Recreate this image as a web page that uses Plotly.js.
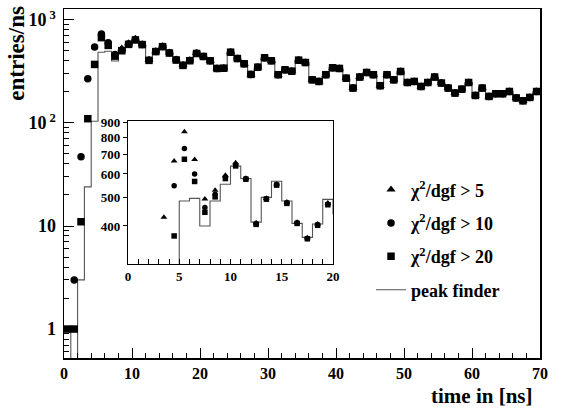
<!DOCTYPE html>
<html>
<head>
<meta charset="utf-8">
<script src="https://cdn.plot.ly/plotly-3.0.1.min.js"></script>
<style>html,body{margin:0;padding:0;background:#fff;}#plot{width:563px;height:409px;}</style>
</head>
<body>
<div id="plot"></div>
<script>
// bin width 1 ns, 70 bins from 0 to 70 ns
const nBins = 70;
const binWidth = 1;

// chi2/dgf > 20 (squares)
const sq = [1, 1, 11, 110, 370, 673, 566, 445, 502, 579,
  639, 576, 405, 493, 550, 477, 408, 362, 402, 472,
  442, 401, 338, 340, 486, 422, 375, 296, 348, 429,
  401, 294, 328, 318, 407, 386, 262, 253, 294, 343,
  338, 272, 218, 279, 309, 294, 230, 294, 262, 316,
  247, 253, 226, 247, 279, 244, 218, 195, 213, 247,
  185, 218, 181, 192, 192, 202, 175, 164, 177, 202];

// chi2/dgf > 10 (circles)
const circ = [null, 3, 47, 268, 547, 732, 600, 462, 512, 585,
  645, 578, 407, 495, 553, 479, 410, 363, 404, 474,
  442, 401, 338, 340, 486, 422, 375, 296, 348, 429,
  401, 294, 328, 318, 407, 386, 262, 253, 294, 343,
  338, 272, 218, 279, 309, 294, 230, 294, 262, 316,
  247, 253, 226, 247, 279, 244, 218, 195, 213, 247,
  185, 218, 181, 192, 192, 202, 175, 164, 177, 202];

// chi2/dgf > 5 (triangles) as seen in the inset
const tri = [null, null, null, 428, 664, 835, 672, 494, 529, 594,
  655, 580, 410, 497, 555, 482, 412, 365, 406, 478,
  442, 401, 338, 340, 486, 422, 375, 296, 348, 429,
  401, 294, 328, 318, 407, 386, 262, 253, 294, 343,
  338, 272, 218, 279, 309, 294, 230, 294, 262, 316,
  247, 253, 226, 247, 279, 244, 218, 195, 213, 247,
  185, 218, 181, 192, 192, 202, 175, 164, 177, 202];
// triangles in the main panel are only drawn from this bin on
const triMainFirstBin = 8;

// peak finder histogram contents
const peak = [1, 0, 3, 24, 104, 486, 496, 400, 486, 554,
  638, 579, 412, 500, 567, 486, 408, 366, 406, 492,
  440, 400, 338, 342, 484, 422, 376, 298, 348, 428,
  400, 296, 328, 318, 406, 386, 262, 254, 294, 342,
  338, 272, 220, 279, 308, 294, 230, 294, 262, 316,
  248, 253, 226, 247, 278, 244, 218, 196, 213, 247,
  186, 218, 181, 192, 192, 202, 175, 164, 177, 202];

const legendNames = ['\u03c7<sup>2</sup>/dgf > 5', '\u03c7<sup>2</sup>/dgf > 10', '\u03c7<sup>2</sup>/dgf > 20', 'peak finder'];
const mainTickVals = [1, 10, 100, 1000];
const mainTickText = ['1', '10', '10<sup> 2</sup>', '10<sup> 3</sup>'];
const insetTickVals = [400, 500, 600, 700, 800, 900];
const insetTickText = ['400', '500', '600', '700', '800', '900'];
const xTickVals = [0, 10, 20, 30, 40, 50, 60, 70];
const insetXTickVals = [0, 5, 10, 15, 20];

// derived positions
const centers = [], edges = [];
for (let i = 0; i < nBins; i++) { centers.push((i + 0.5) * binWidth); edges.push(i * binWidth); }
const peakX = edges.concat([nBins * binWidth]);
const peakY = peak.map(v => v > 0 ? v : 1e-3).concat([peak[nBins - 1] > 0 ? peak[nBins - 1] : 1e-3]);
const triMain = tri.map((v, i) => i >= triMainFirstBin ? v : null);

const minorLog = [];
[0.1, 1, 10, 100].forEach(d => { for (let k = 2; k <= 9; k++) minorLog.push(k * d); });

const F = 'Liberation Serif, Times New Roman, serif';
const lineCol = '#555';

const traces = [
  {x: peakX, y: peakY, mode: 'lines', line: {shape: 'hv', color: lineCol, width: 1.1}, name: legendNames[3], legendrank: 4, legendgroup: 'd', xaxis: 'x', yaxis: 'y'},
  {x: centers, y: triMain, mode: 'markers', marker: {symbol: 'triangle-up', size: 8, color: '#000'}, name: legendNames[0], legendrank: 1, legendgroup: 'a', xaxis: 'x', yaxis: 'y'},
  {x: centers, y: circ, mode: 'markers', marker: {symbol: 'circle', size: 7.5, color: '#000'}, name: legendNames[1], legendrank: 2, legendgroup: 'b', xaxis: 'x', yaxis: 'y'},
  {x: centers, y: sq, mode: 'markers', marker: {symbol: 'square', size: 7.5, color: '#000'}, name: legendNames[2], legendrank: 3, legendgroup: 'c', xaxis: 'x', yaxis: 'y'},
  // inset
  {x: peakX, y: peakY, mode: 'lines', line: {shape: 'hv', color: lineCol, width: 1.1}, showlegend: false, xaxis: 'x2', yaxis: 'y2'},
  {x: centers, y: tri, mode: 'markers', marker: {symbol: 'triangle-up', size: 6, color: '#000'}, showlegend: false, xaxis: 'x2', yaxis: 'y2'},
  {x: centers, y: circ, mode: 'markers', marker: {symbol: 'circle', size: 5.5, color: '#000'}, showlegend: false, xaxis: 'x2', yaxis: 'y2'},
  {x: centers, y: sq, mode: 'markers', marker: {symbol: 'square', size: 5.5, color: '#000'}, showlegend: false, xaxis: 'x2', yaxis: 'y2'}
];

const layout = {
  width: 563, height: 409,
  margin: {l: 64, r: 23, t: 9, b: 51},
  paper_bgcolor: '#fff', plot_bgcolor: 'rgba(0,0,0,0)',
  font: {family: F, color: '#000', size: 18, weight: 'bold'},
  showlegend: true,
  legend: {x: 0.645, y: 0.535, xanchor: 'left', yanchor: 'top', bgcolor: 'rgba(0,0,0,0)', borderwidth: 0,
    font: {family: F, size: 18, weight: 'bold', color: '#000'}, traceorder: 'grouped', tracegroupgap: 7},
  xaxis: {domain: [0, 1], range: [0, 70], showline: true, mirror: true, linecolor: '#000', linewidth: 1.5,
    showgrid: false, zeroline: false, tickvals: xTickVals, ticks: 'inside', ticklen: 10, tickwidth: 1, tickcolor: '#000',
    minor: {dtick: 2, tick0: 0, ticks: 'inside', ticklen: 5, tickcolor: '#000', showgrid: false},
    tickfont: {family: F, size: 16, weight: 'bold'}, ticklabelstandoff: 0},
  yaxis: {domain: [0, 1], type: 'log', range: [-0.281, 3.106], showline: true, mirror: true, linecolor: '#000', linewidth: 1.5,
    showgrid: false, zeroline: false, tickvals: mainTickVals, ticktext: mainTickText, ticks: 'inside', ticklen: 10, tickwidth: 1, tickcolor: '#000',
    minor: {tickvals: minorLog, ticks: 'inside', ticklen: 5, tickcolor: '#000', showgrid: false},
    tickfont: {family: F, size: 18, weight: 'bold'}, ticklabelstandoff: 3},
  xaxis2: {domain: [0.1345, 0.5651], anchor: 'y2', range: [0, 20], showline: true, mirror: true, linecolor: '#000', linewidth: 1.2,
    showgrid: false, zeroline: false, tickvals: insetXTickVals, ticks: 'inside', ticklen: 5, tickcolor: '#000',
    minor: {dtick: 1, tick0: 0, ticks: 'inside', ticklen: 5, tickcolor: '#000', showgrid: false},
    tickfont: {family: F, size: 13, weight: 'bold'}},
  yaxis2: {domain: [0.2693, 0.679], anchor: 'x2', type: 'log', range: [2.4731, 2.9576], showline: true, mirror: true, linecolor: '#000', linewidth: 1.2,
    showgrid: false, zeroline: false, tickvals: insetTickVals, ticktext: insetTickText, ticks: 'outside', ticklen: 4, tickcolor: '#000',
    tickfont: {family: F, size: 13, weight: 'bold'}},
  annotations: [
    {text: 'entries/ns', xref: 'paper', yref: 'paper', x: -0.1, y: 1.015, xanchor: 'center', yanchor: 'top', textangle: -90, showarrow: false,
      font: {family: F, size: 23, weight: 'bold', color: '#000'}},
    {text: 'time in [ns]', xref: 'paper', yref: 'paper', x: 0.99, y: -0.109, xanchor: 'right', yanchor: 'middle', showarrow: false,
      font: {family: F, size: 21, weight: 'bold', color: '#000'}}
  ]
};

Plotly.newPlot('plot', traces, layout, {displayModeBar: false, staticPlot: true});
</script>
</body>
</html>
